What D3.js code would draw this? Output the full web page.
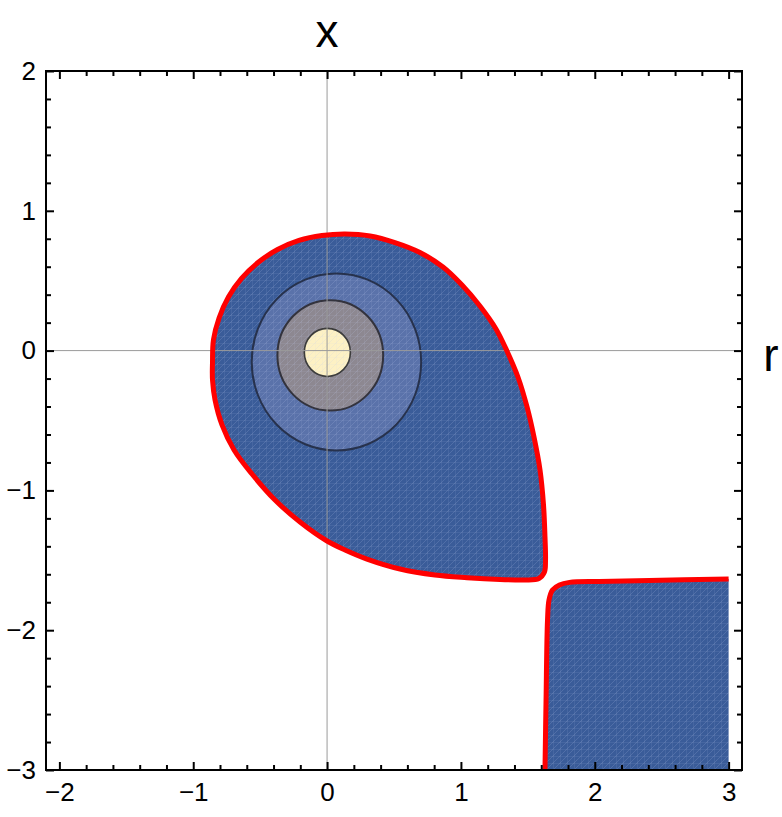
<!DOCTYPE html>
<html>
<head>
<meta charset="utf-8">
<script src="https://cdn.jsdelivr.net/npm/d3@7"></script>
<style>
  body { margin: 0; background: #fff; }
  svg text { font-family: "Liberation Sans", Arial, sans-serif; }
</style>
</head>
<body>
<div id="chart"></div>
<script>
'use strict';

// outer boundary of the teardrop region (data coords, clockwise from the left)
var tearX = [-0.856, -0.849, -0.807, -0.737, -0.639, -0.516, -0.370, -0.210, -0.038, 0.134, 0.321, 0.507, 0.694, 0.866, 1.008, 1.142, 1.262, 1.344, 1.426, 1.494, 1.546, 1.591, 1.617, 1.628, 1.632, 1.624, 1.583, 1.479, 1.292, 1.045, 0.806, 0.545, 0.298, 0.134, 0.0, -0.202, -0.389, -0.561, -0.695, -0.785, -0.837, -0.856];
var tearY = [-0.082, 0.076, 0.233, 0.383, 0.516, 0.630, 0.723, 0.788, 0.823, 0.834, 0.820, 0.773, 0.702, 0.598, 0.469, 0.319, 0.155, -0.003, -0.189, -0.403, -0.618, -0.854, -1.104, -1.333, -1.498, -1.584, -1.630, -1.641, -1.637, -1.624, -1.605, -1.562, -1.491, -1.426, -1.362, -1.226, -1.069, -0.883, -0.711, -0.532, -0.353, -0.210];

// boundary of the lower right region
var lowX = [1.628, 1.636, 1.647, 1.658, 1.684, 1.736, 1.811, 2.035, 2.407, 3.0];
var lowY = [-3.0, -2.5, -1.927, -1.784, -1.712, -1.676, -1.658, -1.651, -1.644, -1.633];

// inner contours (circles), outermost first
var contourCx = [0.07, 0.024, 0.002];
var contourCy = [-0.081, -0.034, -0.013];
var contourR = [0.633, 0.395, 0.172];

var xTicks = [-2, -1, 0, 1, 2, 3];
var yTicks = [-3, -2, -1, 0, 1, 2];

var width = 782, height = 817;
var mLeft = 46, mRight = 742, mTop = 71, mBottom = 770;

var contourFill = ["#5a72aa", "#8d8891", "#fdf1c4"];
var contourStroke = ["#27324d", "#33333d", "#3c3c3c"];

var x = d3.scaleLinear().domain([-2.1, 3.1]).range([mLeft, mRight]);
var y = d3.scaleLinear().domain([-3, 2]).range([mBottom, mTop]);

var svg = d3.select("#chart").append("svg")
  .attr("width", width)
  .attr("height", height);

var defs = svg.append("defs");
defs.append("clipPath").attr("id", "frame")
  .append("rect")
  .attr("x", mLeft).attr("y", mTop)
  .attr("width", mRight - mLeft).attr("height", mBottom - mTop);

// the faint mesh that shows through the filled regions
var mesh = defs.append("pattern")
  .attr("id", "mesh")
  .attr("patternUnits", "userSpaceOnUse")
  .attr("width", 7).attr("height", 7);
mesh.append("path")
  .attr("d", "M0,0V7M0,0H7M0,7L7,0")
  .attr("stroke", "rgba(190,205,235,0.22)")
  .attr("stroke-width", 0.8)
  .attr("fill", "none");

var plot = svg.append("g").attr("clip-path", "url(#frame)");

var tearPts = tearX.map(function (d, i) { return [x(d), y(tearY[i])]; });
var lowPts = lowX.map(function (d, i) { return [x(d), y(lowY[i])]; });

var closedLine = d3.line().curve(d3.curveCatmullRomClosed.alpha(0.5));
var openLine = d3.line().curve(d3.curveCatmullRom.alpha(0.5));

var tearPath = closedLine(tearPts);
var lowPath = openLine(lowPts) + "L" + x(3) + "," + y(-3) + "Z";

[tearPath, lowPath].forEach(function (p) {
  plot.append("path").attr("d", p).attr("fill", "#3a5c99");
  plot.append("path").attr("d", p).attr("fill", "url(#mesh)");
});

contourR.forEach(function (r, i) {
  plot.append("ellipse")
    .attr("cx", x(contourCx[i]))
    .attr("cy", y(contourCy[i]))
    .attr("rx", x(r) - x(0))
    .attr("ry", y(0) - y(r))
    .attr("fill", contourFill[i]);
  plot.append("ellipse")
    .attr("cx", x(contourCx[i]))
    .attr("cy", y(contourCy[i]))
    .attr("rx", x(r) - x(0))
    .attr("ry", y(0) - y(r))
    .attr("fill", "url(#mesh)")
    .attr("stroke", contourStroke[i])
    .attr("stroke-width", i == 2 ? 1.6 : 2);
});

// grid lines at the origin
plot.append("line")
  .attr("x1", x(0)).attr("x2", x(0))
  .attr("y1", mTop).attr("y2", mBottom)
  .attr("stroke", "#9a9a9a").attr("stroke-width", 1);
plot.append("line")
  .attr("x1", mLeft).attr("x2", mRight)
  .attr("y1", y(0)).attr("y2", y(0))
  .attr("stroke", "#9a9a9a").attr("stroke-width", 1);

// red boundaries
plot.append("path").attr("d", tearPath)
  .attr("fill", "none").attr("stroke", "#ff0000").attr("stroke-width", 5);
plot.append("path").attr("d", openLine(lowPts))
  .attr("fill", "none").attr("stroke", "#ff0000").attr("stroke-width", 5);

// frame ticks
var xMinor = d3.range(-2, 3.001, 0.2).filter(function (v) { return Math.abs(v - Math.round(v)) > 0.01; });
var yMinor = d3.range(-3, 2.001, 0.2).filter(function (v) { return Math.abs(v - Math.round(v)) > 0.01; });
var fmt = function (d) { return d < 0 ? "\u2212" + Math.abs(d) : "" + d; };

function styleAxis(g) {
  g.select(".domain").remove();
  g.selectAll("line").attr("stroke", "#000").attr("stroke-width", 2);
  g.selectAll("text").attr("font-size", 26).attr("fill", "#000")
    .attr("font-family", "'Liberation Sans', Arial, sans-serif");
}

svg.append("g").attr("transform", "translate(0," + mBottom + ")")
  .call(d3.axisBottom(x).tickValues(xTicks).tickFormat(fmt).tickSize(-8).tickPadding(13))
  .call(styleAxis);
svg.append("g").attr("transform", "translate(0," + mBottom + ")")
  .call(d3.axisBottom(x).tickValues(xMinor).tickFormat("").tickSize(-5))
  .call(styleAxis);
svg.append("g").attr("transform", "translate(0," + mTop + ")")
  .call(d3.axisTop(x).tickValues(xTicks).tickFormat("").tickSize(-8))
  .call(styleAxis);
svg.append("g").attr("transform", "translate(0," + mTop + ")")
  .call(d3.axisTop(x).tickValues(xMinor).tickFormat("").tickSize(-5))
  .call(styleAxis);

svg.append("g").attr("transform", "translate(" + mLeft + ",0)")
  .call(d3.axisLeft(y).tickValues(yTicks).tickFormat(fmt).tickSize(-8).tickPadding(10))
  .call(styleAxis);
svg.append("g").attr("transform", "translate(" + mLeft + ",0)")
  .call(d3.axisLeft(y).tickValues(yMinor).tickFormat("").tickSize(-5))
  .call(styleAxis);
svg.append("g").attr("transform", "translate(" + mRight + ",0)")
  .call(d3.axisRight(y).tickValues(yTicks).tickFormat("").tickSize(-8))
  .call(styleAxis);
svg.append("g").attr("transform", "translate(" + mRight + ",0)")
  .call(d3.axisRight(y).tickValues(yMinor).tickFormat("").tickSize(-5))
  .call(styleAxis);

svg.append("rect")
  .attr("x", mLeft).attr("y", mTop)
  .attr("width", mRight - mLeft).attr("height", mBottom - mTop)
  .attr("fill", "none").attr("stroke", "#000").attr("stroke-width", 2);

// axis labels
svg.append("text").attr("x", x(0)).attr("y", 47)
  .attr("text-anchor", "middle").attr("font-size", 46).text("x");
svg.append("text").attr("x", 771).attr("y", 371)
  .attr("text-anchor", "middle").attr("font-size", 46).text("r");
</script>
</body>
</html>
